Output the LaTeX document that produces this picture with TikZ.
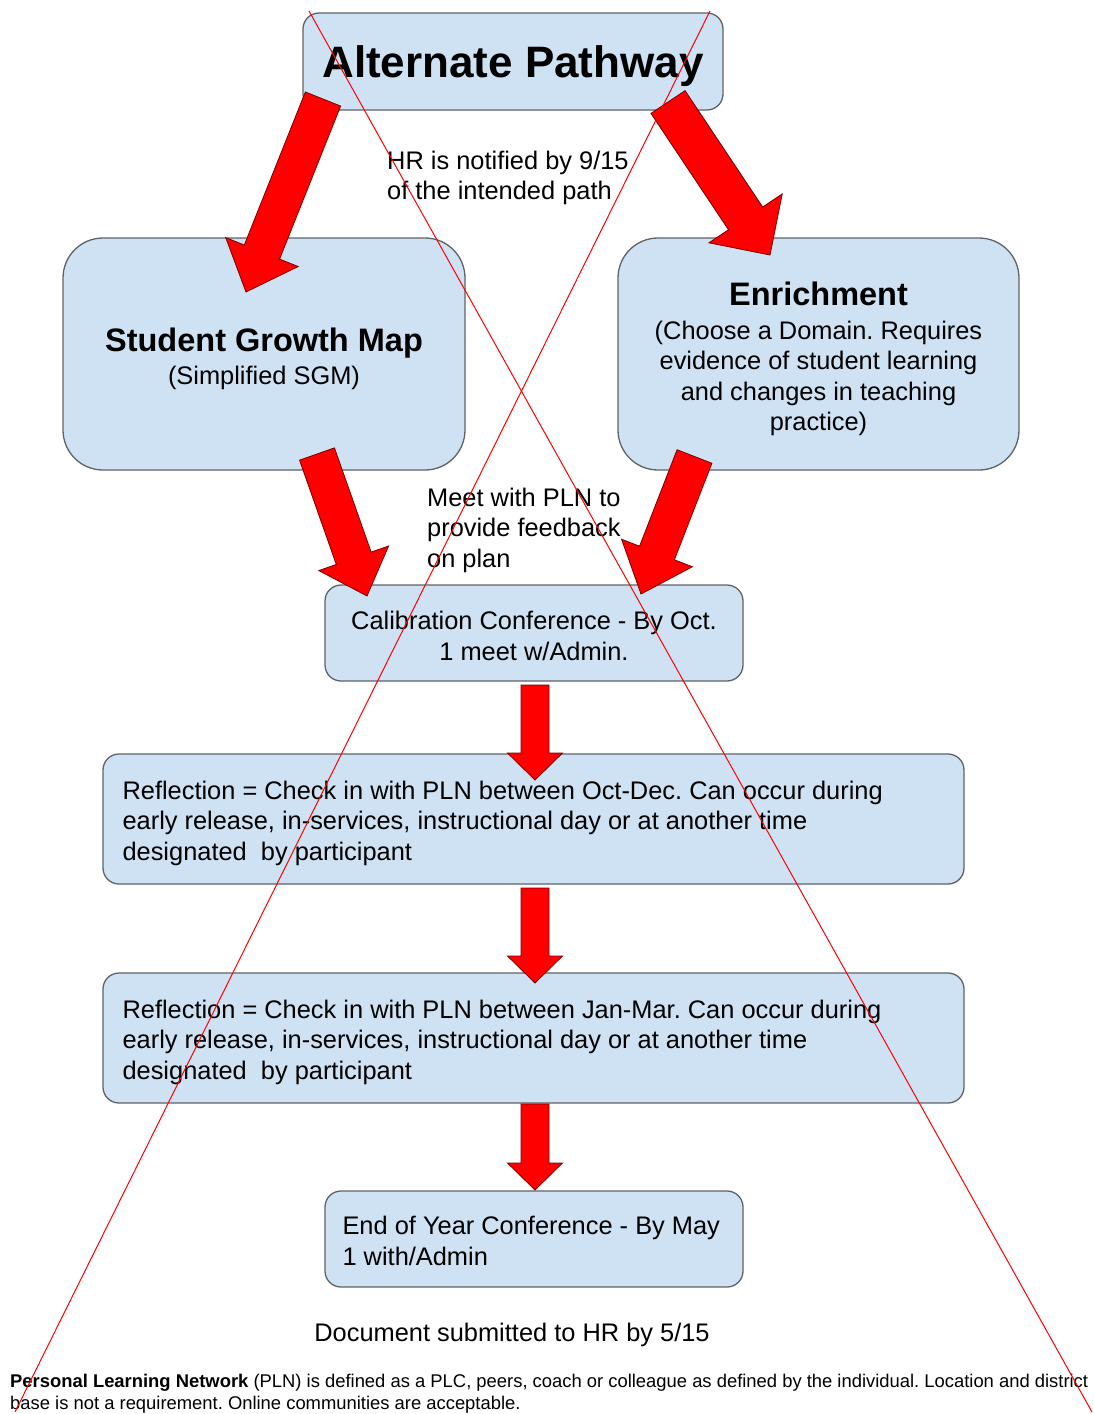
\documentclass[tikz,border=0pt]{standalone}
\usepackage{fontspec}
\setmainfont{Liberation Sans}
\usetikzlibrary{calc}
\definecolor{boxfill}{HTML}{CFE2F3}
\definecolor{boxline}{HTML}{5F6368}
\definecolor{arrred}{HTML}{FF0000}
\definecolor{arrline}{HTML}{7A0000}
\frenchspacing
% block arrow: tail, tip, shaft half-width, head half-width, head length
\newcommand\blockarr[5]{%
  \coordinate (ba-hb) at ($(#2)!#5!(#1)$);
  \draw[blockarrow]
    ($(#1)!#3!90:(#2)$) -- ($(ba-hb)!#3!90:(#2)$) -- ($(ba-hb)!#4!90:(#2)$)
    -- (#2) -- ($(ba-hb)!#4!-90:(#2)$) -- ($(ba-hb)!#3!-90:(#2)$)
    -- ($(#1)!#3!-90:(#2)$) -- cycle;}
\begin{document}
\begin{tikzpicture}[x=1pt,y=-1pt,
  box/.style={draw=boxline, line width=1.3pt, fill=boxfill, inner sep=0pt},
  body/.style={font=\fontsize{25.4}{30.5}\selectfont, inner sep=0pt},
  blockarrow/.style={fill=arrred, draw=arrline, line width=0.8pt, line join=miter},
  xline/.style={draw=red, line width=1pt}]
\useasboundingbox (0,0) rectangle (1094,1414);

% boxes
\node[box, rounded corners=16pt, minimum width=420pt, minimum height=97pt] (top) at (513,61.5) {};
\node[box, rounded corners=40pt, minimum width=402pt, minimum height=232pt] (sgm) at (264,354) {};
\node[box, rounded corners=40pt, minimum width=401pt, minimum height=232pt] (enr) at (818.5,354) {};
\node[box, rounded corners=16pt, minimum width=418pt, minimum height=96pt] (cal) at (534,633) {};
\node[box, rounded corners=16pt, minimum width=861pt, minimum height=130pt] (ref1) at (533.5,819) {};
\node[box, rounded corners=16pt, minimum width=861pt, minimum height=130pt] (ref2) at (533.5,1038) {};
\node[box, rounded corners=16pt, minimum width=418pt, minimum height=96pt] (end) at (534,1239) {};

% box texts
\node[font=\bfseries\fontsize{44}{50}\selectfont, inner sep=0pt] (top-t) at ($(top.center)+(0,5)$) {Alternate Pathway};
\node[body, align=center] (sgm-t) at ($(sgm.center)+(0,5)$)
  {{\bfseries\fontsize{32.5}{36}\selectfont Student Growth Map}\\[2pt](Simplified SGM)};
\node[body, align=center] (enr-t) at ($(enr.center)+(0,5)$)
  {{\bfseries\fontsize{32.5}{36}\selectfont Enrichment}\\[3pt](Choose a Domain. Requires\\evidence of student learning\\and changes in teaching\\practice)};
\node[body, align=center] (cal-t) at ($(cal.center)+(0,3)$) {Calibration Conference - By Oct.\\1 meet w/Admin.};
\node[body, anchor=west, align=left] (ref1-t) at ($(ref1.west)+(20,4)$)
  {Reflection = Check in with PLN between Oct-Dec. Can occur during\\early release, in-services, instructional day or at another time\\designated\ \ by participant};
\node[body, anchor=west, align=left] (ref2-t) at ($(ref2.west)+(20,4)$)
  {Reflection = Check in with PLN between Jan-Mar. Can occur during\\early release, in-services, instructional day or at another time\\designated\ \ by participant};
\node[body, anchor=west, align=left] (end-t) at ($(end.west)+(18,2)$) {End of Year Conference - By May\\1 with/Admin};

% labels
\node[body, anchor=west, align=left] (hr) at (387,178) {HR is notified by 9/15\\of the intended path};
\node[body, anchor=west, align=left] (meet) at (427,530) {Meet with PLN to\\provide feedback\\on plan};
\node[body] (doc) at (512,1335) {Document submitted to HR by 5/15};
\node[font=\fontsize{18.4}{22}\selectfont, anchor=north west, align=left, inner sep=0pt] (foot) at (10,1374)
  {\textbf{Personal Learning Network} (PLN) is defined as a PLC, peers, coach or colleague as defined by the individual. Location and district\\base is not a requirement. Online communities are acceptable.};

% block arrows
\coordinate (a1s) at (323,99);   \coordinate (a1e) at (246,292);
\coordinate (a2s) at (668,102);  \coordinate (a2e) at (770,255);
\coordinate (a3s) at (317,454);  \coordinate (a3e) at (367,596);
\coordinate (a4s) at (694.5,456.5); \coordinate (a4e) at (641,594);
\coordinate (a5s) at (535,685);  \coordinate (a5e) at (535,780);
\coordinate (a6s) at (535,888);  \coordinate (a6e) at (535,983);
\coordinate (a7s) at (535,1104); \coordinate (a7e) at (535,1190);
\blockarr{a1s}{a1e}{19pt}{39pt}{43pt}
\blockarr{a2s}{a2e}{20.5pt}{44pt}{44pt}
\blockarr{a3s}{a3e}{18.5pt}{37pt}{40pt}
\blockarr{a4s}{a4e}{18.7pt}{38pt}{44pt}
\blockarr{a5s}{a5e}{14pt}{27.5pt}{27pt}
\blockarr{a6s}{a6e}{14pt}{27.5pt}{27pt}
\blockarr{a7s}{a7e}{14pt}{27.5pt}{27pt}

% crossing lines
\coordinate (xa1) at (309,11);  \coordinate (xa2) at (1092,1412);
\coordinate (xb1) at (710,11);  \coordinate (xb2) at (15,1412);
\draw[xline] (xa1) -- (xa2);
\draw[xline] (xb1) -- (xb2);
\end{tikzpicture}
\end{document}
